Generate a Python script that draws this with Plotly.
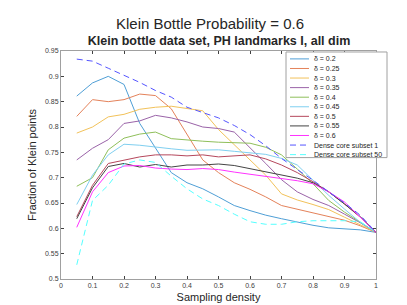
import plotly.graph_objects as go

x = [0.05, 0.1, 0.15, 0.2, 0.25, 0.3, 0.35, 0.4, 0.45, 0.5,
     0.55, 0.6, 0.65, 0.7, 0.75, 0.8, 0.85, 0.9, 0.95, 1.0]

d020 = [0.861, 0.887, 0.900, 0.884, 0.807, 0.758, 0.710, 0.690, 0.678, 0.662,
        0.645, 0.635, 0.626, 0.619, 0.612, 0.606, 0.601, 0.599, 0.597, 0.592]
d025 = [0.821, 0.854, 0.850, 0.854, 0.865, 0.862, 0.836, 0.786, 0.735, 0.710,
        0.690, 0.677, 0.662, 0.645, 0.638, 0.630, 0.624, 0.616, 0.605, 0.592]
d030 = [0.788, 0.800, 0.820, 0.825, 0.835, 0.839, 0.841, 0.837, 0.832, 0.795,
        0.765, 0.735, 0.705, 0.668, 0.656, 0.647, 0.637, 0.622, 0.607, 0.592]
d035 = [0.735, 0.758, 0.775, 0.807, 0.812, 0.823, 0.818, 0.810, 0.800, 0.797,
        0.790, 0.760, 0.728, 0.696, 0.672, 0.657, 0.645, 0.628, 0.611, 0.592]
d040 = [0.683, 0.700, 0.755, 0.778, 0.786, 0.790, 0.777, 0.774, 0.772, 0.770,
        0.769, 0.768, 0.760, 0.745, 0.717, 0.688, 0.655, 0.632, 0.612, 0.592]
d045 = [0.647, 0.705, 0.745, 0.766, 0.764, 0.760, 0.757, 0.754, 0.755, 0.755,
        0.752, 0.749, 0.746, 0.738, 0.725, 0.695, 0.665, 0.638, 0.612, 0.592]
d050 = [0.623, 0.685, 0.728, 0.735, 0.741, 0.745, 0.745, 0.743, 0.745, 0.741,
        0.743, 0.745, 0.737, 0.725, 0.710, 0.692, 0.672, 0.648, 0.622, 0.592]
d055 = [0.619, 0.680, 0.722, 0.728, 0.721, 0.726, 0.721, 0.725, 0.725, 0.727,
        0.724, 0.718, 0.711, 0.706, 0.699, 0.690, 0.672, 0.648, 0.623, 0.592]
d060 = [0.602, 0.672, 0.710, 0.723, 0.724, 0.719, 0.717, 0.716, 0.718, 0.716,
        0.711, 0.707, 0.702, 0.698, 0.694, 0.688, 0.672, 0.652, 0.623, 0.592]
dense1 = [0.934, 0.930, 0.916, 0.902, 0.888, 0.872, 0.859, 0.839, 0.828, 0.818,
          0.803, 0.785, 0.763, 0.738, 0.716, 0.695, 0.672, 0.650, 0.626, 0.592]
dense50 = [0.528, 0.655, 0.685, 0.727, 0.735, 0.730, 0.703, 0.678, 0.658, 0.645,
           0.628, 0.613, 0.608, 0.608, 0.613, 0.615, 0.615, 0.615, 0.613, 0.592]

names = ["δ = 0.2", "δ = 0.25", "δ = 0.3", "δ = 0.35", "δ = 0.4", "δ = 0.45",
         "δ = 0.5", "δ = 0.55", "δ = 0.6", "Dense core subset 1", "Dense core subset 50"]
series = [d020, d025, d030, d035, d040, d045, d050, d055, d060, dense1, dense50]
colors = ["#4f9fd6", "#e4825a", "#f2c25a", "#9a63a8", "#8fbf5a", "#7fcff0",
          "#b5475c", "#444444", "#ff33ff", "#5555ff", "#55ffff"]
dashes = ["solid"] * 9 + ["6px,4px", "6px,4px"]

# plot-area geometry in pixels (figure is 407 x 305)
L, R, T, B = 53, 368, 43, 274
W, H = R - L, B - T


def px_x(p):
    return (p - L) / W


def px_y(p):
    return (B - p) / H


fig = go.Figure()
for n, s, c, d in zip(names, series, colors, dashes):
    fig.add_trace(go.Scatter(x=x, y=s, mode="lines", name=n, showlegend=False,
                             line=dict(color=c, width=1, dash=d)))

axis_common = dict(showline=True, linecolor="#a0a0a0", linewidth=1, mirror="ticks",
                   ticks="inside", ticklen=3, tickcolor="#404040", showgrid=False,
                   zeroline=False, tickfont=dict(size=7, color="#404040",
                                                 family="Liberation Sans"))

fig.update_layout(
    width=407, height=305,
    margin=dict(l=L, r=407 - R, t=T, b=305 - B),
    paper_bgcolor="white", plot_bgcolor="white",
    font=dict(family="Liberation Sans", color="#262626"),
    xaxis=dict(range=[0, 1], dtick=0.1, tick0=0,
               title=dict(text="Sampling density", font=dict(size=11), standoff=4),
               **axis_common),
    yaxis=dict(range=[0.5, 0.95], dtick=0.05, tick0=0.5,
               title=dict(text="Fraction of Klein points", font=dict(size=11), standoff=6),
               **axis_common),
    title=dict(text="<b>Klein bottle data set, PH landmarks I, all dim</b>",
               x=px_x(211), xref="paper", y=1 - 33 / 305, yref="container",
               xanchor="center", yanchor="middle", font=dict(size=12.5)),
)

fig.add_annotation(text="Klein Bottle Probability = 0.6", xref="paper", yref="paper",
                   x=px_x(202), y=px_y(15), xanchor="center",
                   yanchor="middle", showarrow=False, font=dict(size=15, color="#262626"))

# manual compact legend (MATLAB style)
lx0, lx1, ly0, ly1 = 278, 379, 44, 151
fig.add_shape(type="rect", xref="paper", yref="paper",
              x0=px_x(lx0), x1=px_x(lx1), y0=px_y(ly1), y1=px_y(ly0),
              line=dict(color="#a0a0a0", width=1), fillcolor="white", layer="above")
step = (148 - 51) / 10
for i, (n, c, d) in enumerate(zip(names, colors, dashes)):
    yy = 51 + i * step
    fig.add_shape(type="line", xref="paper", yref="paper",
                  x0=px_x(282), x1=px_x(301), y0=px_y(yy), y1=px_y(yy),
                  line=dict(color=c, width=1, dash=d), layer="above")
    fig.add_annotation(text=n, xref="paper", yref="paper", x=px_x(305), y=px_y(yy),
                       xanchor="left", yanchor="middle", showarrow=False, borderpad=0,
                       font=dict(size=7, color="#262626", family="Liberation Sans"))

fig.write_html("out.html")
